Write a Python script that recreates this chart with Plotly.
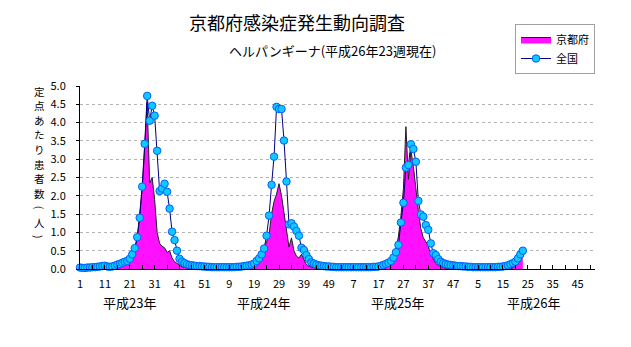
import plotly.graph_objects as go

# ---------------- data ----------------
years = ["平成23年", "平成24年", "平成25年", "平成26年"]
weeks_per_year = 52

kyoto_h23 = [0, 0, 0, 0.02, 0, 0, 0.02, 0, 0, 0.02, 0, 0.02, 0, 0.02,
             0.03, 0.05, 0.08, 0.12, 0.18, 0.25, 0.35, 0.45, 0.55, 0.85, 1.45, 2.2, 3.3, 4.55,
             2.35, 2.5, 1.9, 1.0, 0.7, 0.62, 0.58, 0.45, 0.5, 0.3, 0.2, 0.15, 0.1, 0.06,
             0.04, 0.02, 0.02, 0, 0.02, 0, 0, 0.02, 0, 0]
national_h23 = [0.04, 0.03, 0.03, 0.04, 0.04, 0.05, 0.05, 0.06, 0.07, 0.08, 0.09, 0.07, 0.06,
                0.07, 0.09, 0.12, 0.14, 0.17, 0.2, 0.22, 0.28, 0.4, 0.57, 0.87, 1.4, 2.25, 3.42,
                4.73, 4.05, 4.46, 4.19, 3.23, 2.13, 2.2, 2.33, 2.11, 1.65, 1.02, 0.79, 0.5, 0.28,
                0.2, 0.16, 0.13, 0.11, 0.1, 0.09, 0.08, 0.08, 0.07, 0.07, 0.06]

kyoto_h24 = [0, 0.02, 0, 0, 0.02, 0, 0, 0, 0.02, 0, 0, 0.02, 0, 0, 0.02, 0, 0.02,
             0.03, 0.08, 0.18, 0.3, 0.45, 0.58, 0.75, 0.95, 1.5, 1.85, 2.05, 2.33, 2.0, 1.55,
             1.0, 0.6, 0.85, 0.5, 0.35, 0.3, 0.4, 0.25, 0.12, 0.08, 0.05, 0.03, 0.02, 0, 0.02,
             0, 0, 0.02, 0, 0, 0]
national_h24 = [0.06, 0.05, 0.05, 0.05, 0.05, 0.05, 0.05, 0.05, 0.05, 0.05, 0.05, 0.06, 0.06,
                0.07, 0.08, 0.09, 0.1, 0.12, 0.15, 0.22, 0.29, 0.4, 0.56, 0.91, 1.46, 2.3, 3.07,
                4.43, 4.37, 4.37, 3.51, 2.39, 1.22, 1.25, 1.16, 1.04, 0.91, 0.58, 0.52, 0.38,
                0.27, 0.18, 0.15, 0.12, 0.1, 0.09, 0.08, 0.07, 0.07, 0.06, 0.06, 0.05]

kyoto_h25 = [0, 0, 0.02, 0, 0, 0, 0.02, 0, 0, 0, 0.02, 0, 0, 0, 0.02, 0, 0, 0.02, 0,
             0.03, 0.08, 0.15, 0.3, 0.5, 0.9, 1.45, 2.2, 3.89, 2.45, 3.25, 2.8, 2.1, 1.6, 1.1,
             0.85, 0.75, 0.62, 0.4, 0.25, 0.15, 0.1, 0.06, 0.04, 0.02, 0.02, 0, 0.02, 0, 0, 0,
             0.02, 0]
national_h25 = [0.05, 0.05, 0.05, 0.05, 0.05, 0.05, 0.05, 0.05, 0.05, 0.05, 0.05, 0.05, 0.05,
                0.05, 0.06, 0.06, 0.07, 0.09, 0.11, 0.14, 0.17, 0.22, 0.31, 0.46, 0.66, 1.27,
                1.81, 2.77, 2.84, 3.41, 3.28, 2.93, 1.86, 1.49, 1.43, 1.2, 1.07, 0.7, 0.43, 0.38,
                0.27, 0.2, 0.16, 0.14, 0.12, 0.11, 0.1, 0.09, 0.08, 0.08, 0.07, 0.07]

kyoto_h26 = [0, 0, 0.02, 0, 0, 0, 0.02, 0, 0, 0, 0.02, 0, 0, 0, 0.02, 0, 0, 0,
             0.03, 0.1, 0.2, 0.3, 0.4]
national_h26 = [0.06, 0.06, 0.05, 0.05, 0.05, 0.05, 0.05, 0.05, 0.05, 0.05, 0.05, 0.05, 0.06,
                0.06, 0.07, 0.08, 0.1, 0.13, 0.16, 0.2, 0.29, 0.4, 0.5]

title_text = "京都府感染症発生動向調査"
subtitle_text = "ヘルパンギーナ(平成26年23週現在)"
ytitle_chars = ["定", "点", "あ", "た", "り", "患", "者", "数", "(", "人", ")"]
y_ticks = [0, 0.5, 1.0, 1.5, 2.0, 2.5, 3.0, 3.5, 4.0, 4.5, 5.0]

# ---------------- build series ----------------
kyoto = kyoto_h23 + kyoto_h24 + kyoto_h25 + kyoto_h26
national = national_h23 + national_h24 + national_h25 + national_h26
x = list(range(1, len(kyoto) + 1))
n_slots = weeks_per_year * len(years)
week_of_slot = [(i % weeks_per_year) + 1 for i in range(n_slots)]
tickvals = list(range(1, n_slots + 1, 10))
ticktext = [str(week_of_slot[v - 1]) for v in tickvals]

# layout geometry (pixels)
W, H = 631, 347
L, R, T, B = 80, 36, 86, 78
pw, ph = W - L - R, H - T - B


def xp(px):
    return (px - L) / pw


def yp(py):
    return (H - B - py) / ph


FONT = "Noto Sans CJK JP"

fig = go.Figure()
fig.add_trace(go.Scatter(
    x=x, y=kyoto, name="京都府", mode="lines",
    line=dict(color="#202020", width=1),
    fill="tozeroy", fillcolor="#FF10FF",
))
fig.add_trace(go.Scatter(
    x=x, y=national, name="全国", mode="lines+markers",
    line=dict(color="#000080", width=1),
    marker=dict(symbol="circle", size=7.5, color="#10C8FF",
                line=dict(color="#0060FF", width=1)),
    cliponaxis=False,
))

annotations = [
    dict(text=title_text, x=xp(297), y=yp(22), font=dict(size=18, color="black", family=FONT)),
    dict(text=subtitle_text, x=xp(332), y=yp(50), font=dict(size=13, color="black", family=FONT)),
]
year_px = [129, 263, 397, 533]
for yr, px in zip(years, year_px):
    annotations.append(dict(text=yr, x=xp(px), y=yp(302), font=dict(size=13, color="black", family=FONT)))
for k, ch in enumerate(ytitle_chars):
    a = dict(text=ch, x=xp(39), y=yp(91 + 14.6 * k), borderpad=0,
             font=dict(size=10.5, color="black", family=FONT))
    if ch in "()":
        a["textangle"] = 90
    annotations.append(a)
for a in annotations:
    a.update(xref="paper", yref="paper", showarrow=False, xanchor="center", yanchor="middle")

fig.update_layout(
    width=W, height=H,
    margin=dict(l=L, r=R, t=T, b=B, pad=0),
    paper_bgcolor="white", plot_bgcolor="white",
    font=dict(family=FONT, size=11, color="black"),
    showlegend=True,
    legend=dict(x=xp(515), y=yp(24), xanchor="left", yanchor="top",
                bordercolor="#A0A0A0", borderwidth=1, bgcolor="white",
                font=dict(size=11, family=FONT), tracegroupgap=0,
                itemwidth=30),
    annotations=annotations,
    xaxis=dict(range=[1, n_slots], tickmode="array", tickvals=tickvals, ticktext=ticktext,
               ticks="inside", ticklen=4, tickcolor="black",
               minor=dict(tickmode="array", tickvals=list(range(6, n_slots + 1, 10)),
                          ticks="inside", ticklen=4, tickcolor="black"),
               showline=True, linecolor="black", linewidth=1, showgrid=False, zeroline=False,
               ticklabelstandoff=5,
               tickfont=dict(size=11, family=FONT)),
    yaxis=dict(range=[0, 5], tickmode="array", tickvals=y_ticks,
               ticktext=[f"{v:.1f}" for v in y_ticks],
               ticks="outside", ticklen=3, tickcolor="black",
               showline=True, linecolor="black", linewidth=1,
               showgrid=True, gridcolor="#B4B4B4", griddash="dot", gridwidth=1,
               zeroline=False, ticklabelstandoff=8,
               tickfont=dict(size=11, family=FONT)),
)

fig.write_html("out.html")
